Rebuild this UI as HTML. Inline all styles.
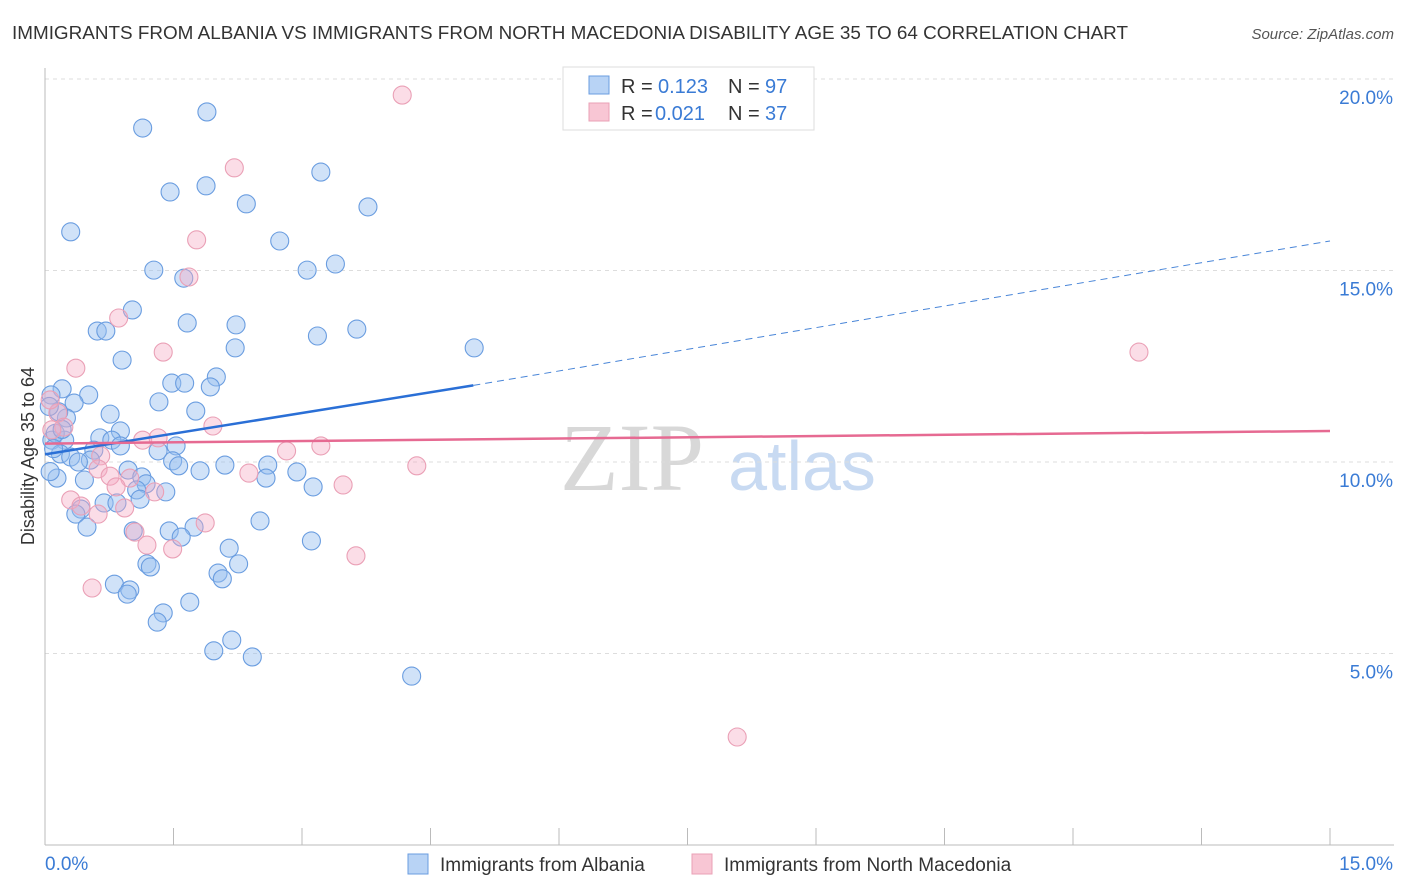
<!DOCTYPE html>
<html><head><meta charset="utf-8"><style>
body{margin:0;background:#fff;font-family:"Liberation Sans",sans-serif;}
svg{display:block}
</style></head><body>
<svg id="chart" width="1406" height="892">
<text x="12" y="39" font-size="18" fill="#333" textLength="1116" lengthAdjust="spacingAndGlyphs">IMMIGRANTS FROM ALBANIA VS IMMIGRANTS FROM NORTH MACEDONIA DISABILITY AGE 35 TO 64 CORRELATION CHART</text>
<text x="1394" y="39" font-size="15" fill="#555" font-style="italic" text-anchor="end">Source: ZipAtlas.com</text>
<text x="632" y="490" font-size="96" fill="#d8d8d8" font-family="Liberation Serif,serif" text-anchor="middle">ZIP</text>
<text x="802" y="490" font-size="70" fill="#c8daf2" text-anchor="middle">atlas</text>
<g id="grid"></g>
<g id="axes"></g>
<g id="points"></g>
<g id="lines"></g>
<text x="34" y="456" font-size="18" fill="#333" text-anchor="middle" transform="rotate(-90 34 456)">Disability Age 35 to 64</text>
<g>
<rect x="563" y="67" width="251" height="63" fill="#fff" stroke="#ddd"/>
<rect x="589" y="76" width="20" height="18" fill="#b8d3f5" stroke="#6a9de0"/>
<rect x="589" y="103" width="20" height="18" fill="#f8c6d4" stroke="#eaa0b6"/>
<text x="621" y="93" font-size="20" fill="#333">R =</text><text x="658" y="93" font-size="20" fill="#3a7bd5">0.123</text>
<text x="728" y="93" font-size="20" fill="#333">N =</text><text x="765" y="93" font-size="20" fill="#3a7bd5">97</text>
<text x="621" y="120" font-size="20" fill="#333">R =</text><text x="655" y="120" font-size="20" fill="#3a7bd5">0.021</text>
<text x="728" y="120" font-size="20" fill="#333">N =</text><text x="765" y="120" font-size="20" fill="#3a7bd5">37</text>
</g>
<g>
<rect x="408" y="854" width="20" height="20" fill="#b8d3f5" stroke="#6a9de0"/>
<text x="440" y="871" font-size="19" fill="#333">Immigrants from Albania</text>
<rect x="692" y="854" width="20" height="20" fill="#f8c6d4" stroke="#eaa0b6"/>
<text x="724" y="871" font-size="19" fill="#333">Immigrants from North Macedonia</text>
</g>
</svg>
<script>
const yTicks=[5,10,15,20];
const yTickLabels=["5.0%","10.0%","15.0%","20.0%"];
const xEndLabels=["0.0%","15.0%"];
const blueX=[1.89,1.14,3.22,1.88,1.46,2.35,3.77,0.30,2.74,1.27,3.06,3.39,1.62,1.02,1.66,2.23,0.61,0.71,3.18,3.64,5.01,2.22,0.90,2.00,1.48,1.63,1.93,0.20,0.51,0.07,0.34,1.33,1.76,0.76,0.25,0.16,0.88,0.64,0.78,0.08,0.23,1.53,0.57,0.88,1.32,0.18,0.30,0.53,0.39,1.49,1.56,2.10,2.60,0.97,1.81,2.94,0.14,0.46,1.13,2.58,1.18,1.07,3.13,1.41,1.11,0.69,0.84,0.42,0.36,2.51,0.49,1.03,1.45,1.74,1.59,3.11,2.15,1.19,1.23,2.26,2.02,2.07,0.81,0.99,0.96,1.69,1.38,1.31,2.18,1.97,2.42,4.28,0.05,0.12,0.10,0.06,0.20];
const blueY=[19.14,18.72,17.57,17.21,17.05,16.74,16.66,16.01,15.77,15.01,15.01,15.17,14.80,13.97,13.63,13.58,13.42,13.42,13.29,13.47,12.98,12.98,12.66,12.22,12.06,12.06,11.96,11.91,11.75,11.75,11.54,11.57,11.33,11.25,11.15,11.31,10.81,10.63,10.57,10.57,10.57,10.42,10.31,10.42,10.29,10.21,10.13,10.05,10.00,10.03,9.90,9.92,9.92,9.79,9.77,9.74,9.58,9.53,9.61,9.58,9.43,9.27,9.35,9.22,9.03,8.93,8.93,8.77,8.64,8.46,8.30,8.20,8.20,8.30,8.04,7.94,7.75,7.34,7.26,7.34,7.10,6.95,6.81,6.66,6.55,6.34,6.06,5.82,5.35,5.07,4.91,4.41,11.45,10.75,10.35,9.75,10.85];
const pinkX=[4.17,2.21,1.77,1.68,0.86,1.38,0.36,12.77,0.15,0.22,1.96,1.14,1.32,3.22,2.82,0.65,4.34,0.62,2.38,0.76,0.99,3.48,0.83,1.28,0.30,0.42,0.93,0.62,1.87,1.05,1.19,1.49,3.63,0.55,8.08,0.06,0.08];
const pinkY=[19.58,17.68,15.80,14.83,13.76,12.87,12.45,12.87,11.28,10.91,10.94,10.57,10.63,10.42,10.29,10.16,9.90,9.82,9.71,9.63,9.58,9.40,9.35,9.22,9.01,8.85,8.80,8.64,8.41,8.17,7.83,7.73,7.55,6.71,2.82,11.62,10.84];
const blueLine=[0,10.2,5.0,12.0,15,15.77];
const pinkLine=[0,10.48,15,10.81];
const NS="http://www.w3.org/2000/svg";
const X0=45,X1=1330,Y0=845,PY=38.3;
function sx(v){return X0+v*(X1-X0)/15;}
function sy(v){return Y0-v*PY;}
function mk(tag,attrs,parent){const e=document.createElementNS(NS,tag);for(const k in attrs)e.setAttribute(k,attrs[k]);document.getElementById(parent).appendChild(e);return e;}
yTicks.forEach((t,i)=>{
 const g=mk('line',{x1:X0,x2:1394,y1:sy(t),y2:sy(t),stroke:'#ddd','stroke-dasharray':'4,4'},'grid');
 
 
 const l=mk('text',{x:1393,y:sy(t)+25,'font-size':19,fill:'#3a7bd5','text-anchor':'end'},'grid');
 l.textContent=yTickLabels[i];
 
 
});
const ax=mk('line',{x1:X0,x2:X0,y1:68,y2:Y0,stroke:'#bbb'},'axes');


const bx=mk('line',{x1:X0,x2:1394,y1:Y0,y2:Y0,stroke:'#bbb'},'axes');


for(let i=0;i<=10;i++){const t=mk('line',{x1:sx(i*1.5),x2:sx(i*1.5),y1:Y0,y2:828,stroke:'#bbb'},'axes');
 
 }
const xl0=mk('text',{x:45,y:870,'font-size':19,fill:'#3a7bd5'},'axes');xl0.textContent=xEndLabels[0];


const xl1=mk('text',{x:1393,y:870,'font-size':19,fill:'#3a7bd5','text-anchor':'end'},'axes');xl1.textContent=xEndLabels[1];


blueX.forEach((x,i)=>{const c=mk('circle',{cx:sx(x),cy:sy(blueY[i]),r:9,fill:'rgba(150,190,240,0.45)',stroke:'#6a9de0','stroke-width':1.1},'points');
 
 });
pinkX.forEach((x,i)=>{const c=mk('circle',{cx:sx(x),cy:sy(pinkY[i]),r:9,fill:'rgba(245,170,195,0.4)',stroke:'#eaa0b6','stroke-width':1.1},'points');
 
 });
const b1=mk('line',{x1:sx(blueLine[0]),y1:sy(blueLine[1]),x2:sx(blueLine[2]),y2:sy(blueLine[3]),stroke:'#2a6fd6','stroke-width':2.5},'lines');


const b2=mk('line',{x1:sx(blueLine[2]),y1:sy(blueLine[3]),x2:sx(blueLine[4]),y2:sy(blueLine[5]),stroke:'#4a86d8','stroke-width':1,'stroke-dasharray':'7,5'},'lines');


const p1=mk('line',{x1:sx(pinkLine[0]),y1:sy(pinkLine[1]),x2:sx(pinkLine[2]),y2:sy(pinkLine[3]),stroke:'#e66a92','stroke-width':2.5},'lines');


</script>
</body></html>
